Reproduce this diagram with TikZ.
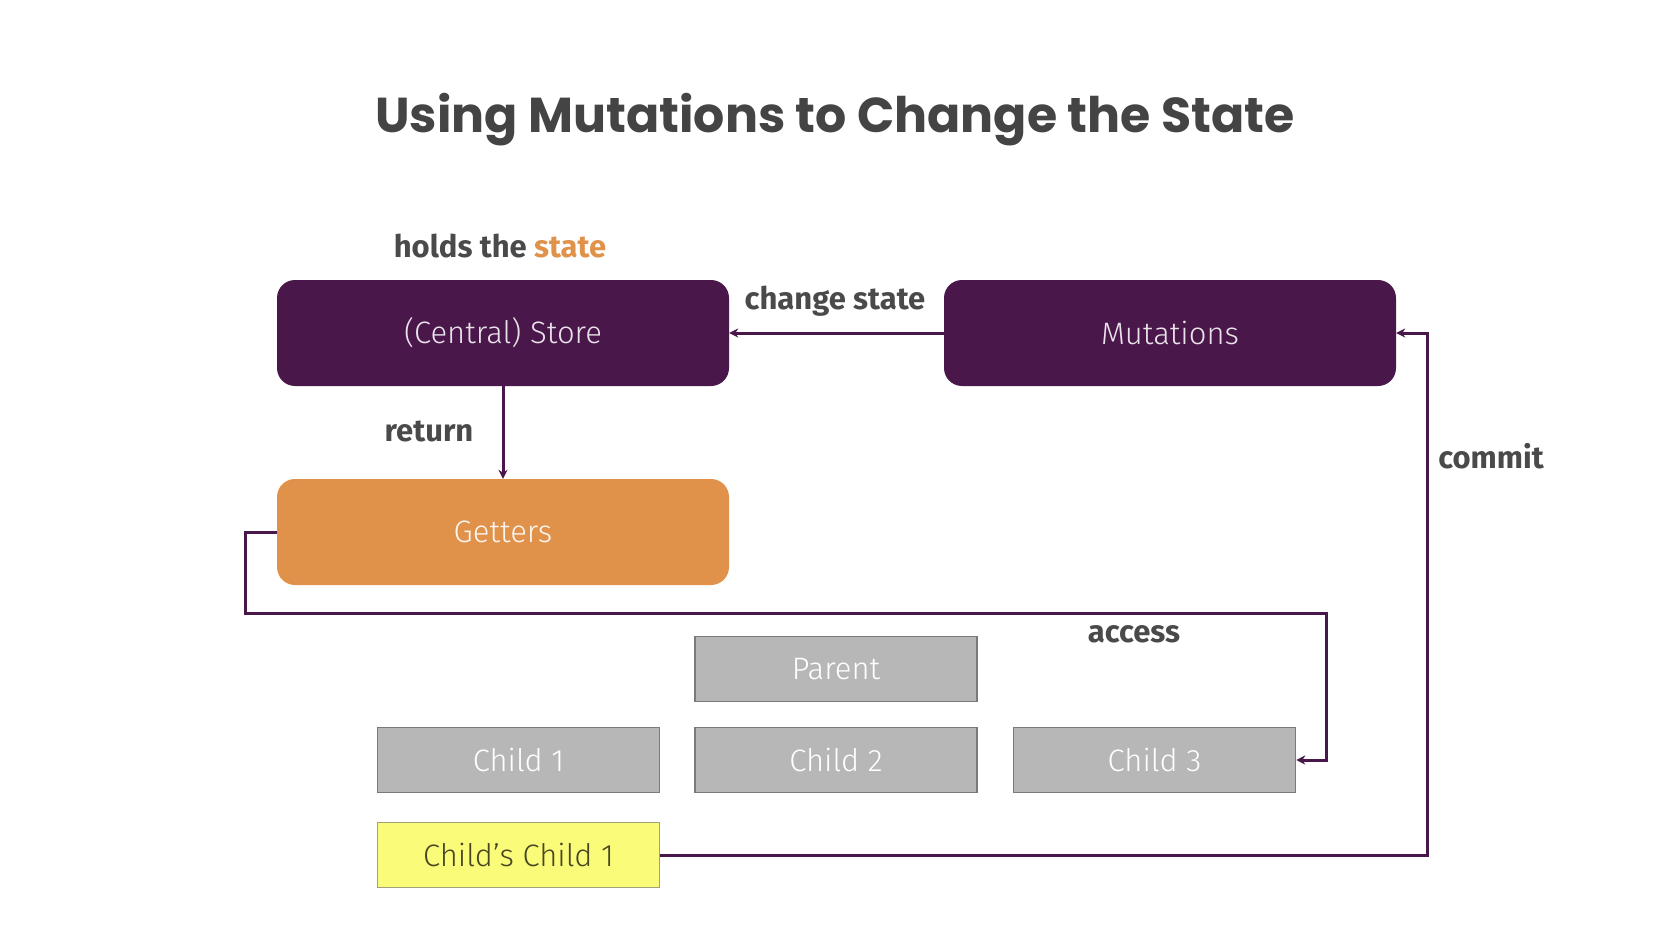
\documentclass[tikz,border=0pt]{standalone}
\usepackage{fontspec}
\setmainfont{Fira Sans}
\newfontfamily\titlefont{Poppins}
\newfontfamily\boxfont{Fira Sans Light}
\newfontfamily\labelfont{Fira Sans}
\usetikzlibrary{arrows.meta}
\definecolor{vpurple}{HTML}{4A174A}
\definecolor{vorange}{HTML}{E0914A}
\definecolor{vgray}{HTML}{B7B7B7}
\definecolor{vgrayline}{HTML}{7A7A7A}
\definecolor{vyellow}{HTML}{FBFB7A}
\definecolor{vtext}{HTML}{4A4A4A}
\definecolor{vtitle}{HTML}{444444}
\tikzset{
  x=1pt,y=-1pt,
  bigbox/.style={rounded corners=18pt, minimum width=452pt, minimum height=106pt, inner sep=0pt, font=\boxfont\fontsize{31}{36}\selectfont},
  purplebox/.style={bigbox, fill=vpurple, text=white!88!vpurple},
  orangebox/.style={bigbox, fill=vorange, text=white!92!vorange},
  compbox/.style={draw=vgrayline, line width=1.5pt, fill=vgray, text=white, minimum width=282pt, minimum height=65pt, inner sep=0pt, font=\boxfont\fontsize{31}{36}\selectfont},
  yellowbox/.style={compbox, fill=vyellow, draw=vgrayline!70!vyellow, text=black!72!vyellow},
  lbl/.style={text=vtext, font=\labelfont\bfseries\fontsize{31}{36}\selectfont, inner sep=0pt},
  conn/.style={draw=vpurple, line width=3pt, -{Stealth[length=9pt,width=9pt]}},
}
\begin{document}
\begin{tikzpicture}
\useasboundingbox[fill=white] (0,0) rectangle (1670,936);
\node[text=vtitle, font=\titlefont\bfseries\fontsize{49}{58}\selectfont, inner sep=0pt] (title) at (835,120) {Using Mutations to Change the State};

\node[purplebox] (store) at (503,333) {(Central) Store};
\node[purplebox] (mut) at (1170,333) {Mutations};
\node[orangebox] (get) at (503,532) {Getters};

\node[compbox] (parent) at (836,669) {Parent};
\node[compbox] (c1) at (518.5,760) {Child 1};
\node[compbox] (c2) at (836,760) {Child 2};
\node[compbox] (c3) at (1154.5,760) {Child 3};
\node[yellowbox] (cc1) at (518.5,855) {Child’s Child 1};

\node[lbl] (lhold) at (500,246) {holds the \textcolor{vorange}{state}};
\node[lbl] (lchange) at (835,301) {change state};
\node[lbl] (lreturn) at (429,431) {return};
\node[lbl] (lcommit) at (1491,456) {commit};
\node[lbl] (laccess) at (1134,634) {access};

\coordinate (g1) at (245,613);
\coordinate (g2) at (1326,613);
\coordinate (k1) at (1427,855);

\draw[conn] (mut.west) -- (store.east);
\draw[conn] (store.south) -- (get.north);
\draw[conn] (get.west) -| (g1) -- (g2) |- (c3.east);
\draw[conn] (cc1.east) -- (k1) |- (mut.east);
\end{tikzpicture}
\end{document}
